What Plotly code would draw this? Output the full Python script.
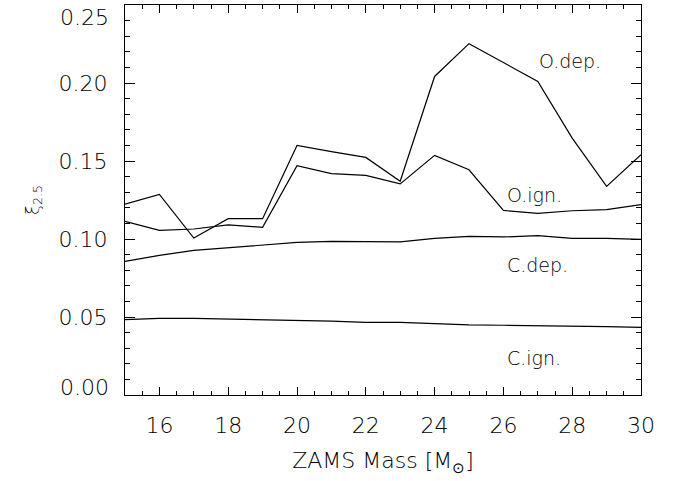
import plotly.graph_objects as go

mass = [15, 16, 17, 18, 19, 20, 21, 22, 23, 24, 25, 26, 27, 28, 29, 30]
o_dep = [0.1224, 0.1286, 0.1006, 0.1130, 0.1130, 0.1600, 0.1560, 0.1523, 0.1370,
         0.2042, 0.2252, 0.2132, 0.2010, 0.1647, 0.1337, 0.1540]
o_ign = [0.1113, 0.1055, 0.1064, 0.1090, 0.1075, 0.1470, 0.1419, 0.1408, 0.1353,
         0.1536, 0.1444, 0.1183, 0.1164, 0.1181, 0.1188, 0.1220]
c_dep = [0.0856, 0.0895, 0.0927, 0.0944, 0.0963, 0.0978, 0.0985, 0.0981, 0.0981,
         0.1004, 0.1017, 0.1013, 0.1021, 0.1004, 0.1004, 0.0997]
c_ign = [0.0483, 0.0491, 0.0491, 0.0487, 0.0485, 0.0481, 0.0474, 0.0465, 0.0465,
         0.0457, 0.0449, 0.0447, 0.0445, 0.0440, 0.0438, 0.0434]

series = [("O.dep.", o_dep), ("O.ign.", o_ign), ("C.dep.", c_dep), ("C.ign.", c_ign)]
labels = [("O.dep.", 27.95, 0.214), ("O.ign.", 26.9, 0.128), ("C.dep.", 27.0, 0.0834), ("C.ign.", 26.9, 0.0240)]

xticks = [16, 18, 20, 22, 24, 26, 28, 30]
yticks = [0.05, 0.10, 0.15, 0.20]
ytick_text = ["0.05", "0.10", "0.15", "0.20"]

FONT = "DejaVu Sans ExtraLight, DejaVu Sans Light, Open Sans Light, Lato Light, Roboto Light, Open Sans, sans-serif"

def f(size):
    return dict(family=FONT, size=size, color="black", weight=300)

fig = go.Figure()
for name, vals in series:
    fig.add_trace(go.Scatter(x=mass, y=vals, mode="lines", name=name,
                             line=dict(color="black", width=1.2), showlegend=False))

for text, x, y in labels:
    fig.add_annotation(x=x, y=y, text=text, showarrow=False, font=f(19))

# edge tick labels (drawn slightly inside, as in the reference)
fig.add_annotation(x=0, xref="paper", xanchor="right", xshift=-14, y=0.0, yshift=8,
                   text="0.00", showarrow=False, font=f(22))
fig.add_annotation(x=0, xref="paper", xanchor="right", xshift=-14, y=0.25, yshift=-12,
                   text="0.25", showarrow=False, font=f(22))

fig.update_layout(
    width=683, height=481,
    margin=dict(l=125, r=42, t=5, b=86),
    paper_bgcolor="white", plot_bgcolor="white",
    font=f(20),
    xaxis=dict(range=[15, 30], tickvals=xticks, ticks="inside", ticklen=8,
               tickcolor="black", showline=True, linecolor="black", linewidth=1.2,
               mirror="allticks", showgrid=False, zeroline=False, automargin=False,
               tickfont=f(22), ticklabelstandoff=10,
               minor=dict(dtick=0.5, ticks="inside", ticklen=4, tickcolor="black", showgrid=False),
               title=dict(text="ZAMS Mass [M<sub>⊙</sub>]", font=f(22), standoff=16)),
    yaxis=dict(range=[0, 0.25], tickvals=yticks, ticktext=ytick_text, ticks="inside", ticklen=10,
               tickcolor="black", showline=True, linecolor="black", linewidth=1.2,
               mirror="allticks", showgrid=False, zeroline=False, automargin=False,
               tickfont=f(22), ticklabelstandoff=12,
               minor=dict(dtick=0.01, ticks="inside", ticklen=5, tickcolor="black", showgrid=False),
               title=dict(text="ξ<sub>2.5</sub>", font=f(18), standoff=14)),
)

fig.write_html("out.html", config={"displayModeBar": False},
               post_script="document.body.style.margin='0px';")
